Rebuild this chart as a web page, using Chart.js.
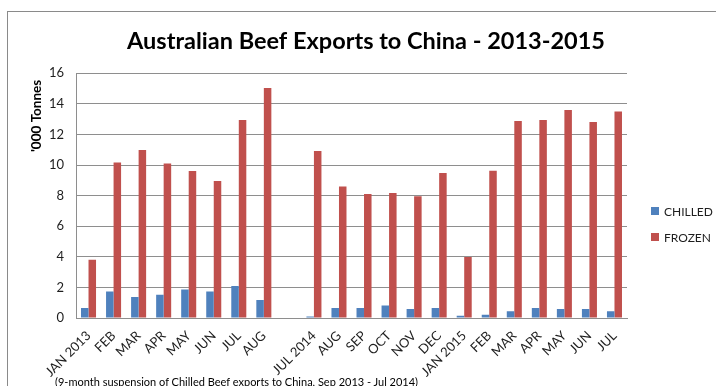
<!DOCTYPE html>
<html>
<head>
<meta charset="utf-8">
<script src="https://cdn.jsdelivr.net/npm/chart.js@4.4.0/dist/chart.umd.min.js"></script>
<style>
    html, body { margin: 0; padding: 0; background: #fff; }
    body { width: 716px; height: 386px; position: relative; overflow: hidden; }
    #frame { position: absolute; left: 7px; top: 11px; width: 760px; height: 420px; border: 1px solid #8a8a8a; }
    #wrap { position: absolute; left: 0; top: 0; width: 716px; height: 386px; }
    #note { position: absolute; left: 55px; top: 375px; font: 11px Lato, sans-serif; color: #000; white-space: nowrap; }
</style>
</head>
<body>
<div id="frame"></div>
<div id="wrap"><canvas id="beefChart" width="716" height="386"></canvas></div>
<div id="note">(9-month suspension of Chilled Beef exports to China, Sep 2013 - Jul 2014)</div>
<script>
// Data (thousand tonnes); '' is the gap during the suspension
const months = ['JAN 2013', 'FEB', 'MAR', 'APR', 'MAY', 'JUN', 'JUL', 'AUG', '',
    'JUL 2014', 'AUG', 'SEP', 'OCT', 'NOV', 'DEC', 'JAN 2015', 'FEB', 'MAR', 'APR', 'MAY', 'JUN', 'JUL'];
const chilled = [0.65, 1.74, 1.37, 1.52, 1.87, 1.74, 2.09, 1.18, null,
    0.09, 0.65, 0.65, 0.81, 0.59, 0.65, 0.15, 0.22, 0.44, 0.65, 0.59, 0.59, 0.44];
const frozen = [3.81, 10.17, 10.98, 10.1, 9.6, 8.95, 12.94, 15.03, null,
    10.91, 8.6, 8.1, 8.17, 7.95, 9.48, 3.99, 9.63, 12.88, 12.94, 13.59, 12.81, 13.5];
const yTicks = [0, 2, 4, 6, 8, 10, 12, 14, 16];

const gridGray = '#8e8e8e';
const textColor = '#1e1e1e';

// Legend drawn to the right of the plot, like the spreadsheet chart
const sideLegend = {
    id: 'sideLegend',
    afterDraw(chart) {
        const ctx = chart.ctx;
        const x = chart.chartArea.right + 24;
        let y = 211;
        ctx.save();
        ctx.font = '12px Lato';
        ctx.textBaseline = 'middle';
        chart.data.datasets.forEach(ds => {
            ctx.fillStyle = ds.backgroundColor;
            ctx.fillRect(x, y - 4, 8, 8);
            ctx.fillStyle = textColor;
            ctx.fillText(ds.label, x + 13, y + 1);
            y += 26;
        });
        ctx.restore();
    }
};

const ctx = document.getElementById('beefChart').getContext('2d');
new Chart(ctx, {
    type: 'bar',
    data: {
        labels: months,
        datasets: [
            { label: 'CHILLED', data: chilled, backgroundColor: '#4F81BD' },
            { label: 'FROZEN', data: frozen, backgroundColor: '#C0504D' }
        ]
    },
    options: {
        responsive: false,
        animation: false,
        categoryPercentage: 0.6,
        barPercentage: 1.0,
        layout: { padding: { left: 16, right: 0, top: 0, bottom: 0 } },
        plugins: {
            legend: { display: false },
            tooltip: { enabled: false },
            title: {
                display: true,
                text: 'Australian Beef Exports to China - 2013-2015',
                color: '#000',
                font: { family: 'Lato', size: 23.5, weight: 'bold' },
                lineHeight: 1.2,
                padding: { top: 27, bottom: 18 }
            }
        },
        scales: {
            x: {
                grid: { display: false, drawTicks: false },
                border: { color: gridGray },
                ticks: {
                    autoSkip: false,
                    minRotation: 45,
                    maxRotation: 45,
                    padding: 10,
                    color: textColor,
                    font: { family: 'Lato', size: 13 }
                },
                afterFit: scale => { scale.height = 68; }
            },
            y: {
                min: 0,
                max: 16,
                afterBuildTicks: scale => { scale.ticks = yTicks.map(v => ({ value: v })); },
                grid: { color: gridGray, drawTicks: false },
                border: { color: gridGray },
                ticks: {
                    padding: 12,
                    color: textColor,
                    font: { family: 'Lato', size: 13 }
                },
                title: {
                    display: true,
                    text: "'000 Tonnes\u00a0\u00a0",
                    align: 'end',
                    color: '#000',
                    font: { family: 'Lato', size: 13.5, weight: 'bold' },
                    padding: { top: 13, bottom: 0 }
                },
                afterFit: scale => { scale.width = 60; }
            },
            side: {
                position: 'right',
                display: true,
                grid: { display: false },
                border: { display: false },
                ticks: { display: false },
                afterFit: scale => { scale.width = 89; }
            }
        }
    },
    plugins: [sideLegend]
});
</script>
</body>
</html>
